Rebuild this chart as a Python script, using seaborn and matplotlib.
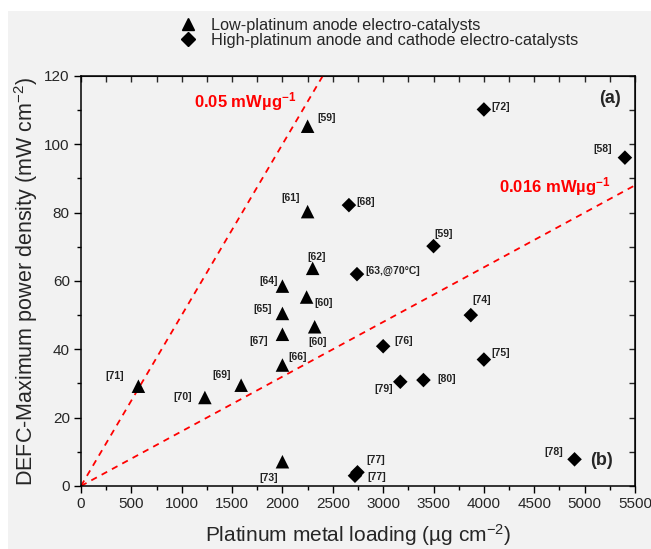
import numpy as np
import pandas as pd
import matplotlib.pyplot as plt
import seaborn as sns
from matplotlib.lines import Line2D
from matplotlib.patches import Rectangle
from matplotlib.ticker import MultipleLocator

# Low-platinum anode electro-catalysts
low_pt_loading = [2250, 2250, 2300, 2000, 2240, 2000, 2000, 2320, 2000, 570, 1230, 1590, 2000]
low_pt_power = [105.3, 80.3, 63.7, 58.5, 55.3, 50.5, 44.4, 46.6, 35.4, 29.2, 25.9, 29.5, 7.1]
low_pt_refs = ['[59]', '[61]', '[62]', '[64]', '[60]', '[65]', '[67]', '[60]', '[66]',
               '[71]', '[70]', '[69]', '[73]']

# High-platinum anode and cathode electro-catalysts
high_pt_loading = [4000, 5400, 2660, 3500, 2740, 3870, 3000, 4000, 3170, 3400, 4900, 2745, 2720]
high_pt_power = [110.2, 96.1, 82.2, 70.2, 62.0, 50.0, 40.9, 37.0, 30.5, 31.0, 7.8, 4.0, 3.0]
high_pt_refs = ['[72]', '[58]', '[68]', '[59]', '[63,@70\u00b0C]', '[74]', '[76]', '[75]',
                '[79]', '[80]', '[78]', '[77]', '[77]']

# Specific power reference lines (mW per ug)
specific_power = [0.05, 0.016]
specific_power_labels = ['0.05 mW\u00b5g$^{\\mathbf{-1}}$', '0.016 mW\u00b5g$^{\\mathbf{-1}}$']

legend_labels = ['Low-platinum anode electro-catalysts',
                 'High-platinum anode and cathode electro-catalysts']

# label offsets (points) relative to each marker
low_offsets = [(14, 6), (-12, 10), (3, 8), (-10, 4), (12, -4), (-14, 3), (-17, -5),
               (2, -11), (11, 6), (-17, 7), (-16, 0), (-14, 7), (-10, -12)]
high_offsets = [(12, 2), (-16, 6), (12, 2), (7, 9), (6, 2), (8, 11), (15, 4), (12, 5),
                (-12, -5), (17, 1), (-15, 5), (13, 9), (16, -1)]

sns.set_style('ticks')
plt.rcParams['font.family'] = ['Liberation Sans', 'DejaVu Sans']
plt.rcParams['mathtext.fontset'] = 'custom'
plt.rcParams['mathtext.rm'] = 'Liberation Sans'
plt.rcParams['mathtext.bf'] = 'Liberation Sans:bold'
plt.rcParams['mathtext.it'] = 'Liberation Sans:italic'

BG = '#f2f2f2'

df_low = pd.DataFrame({'loading': low_pt_loading, 'power': low_pt_power, 'ref': low_pt_refs})
df_high = pd.DataFrame({'loading': high_pt_loading, 'power': high_pt_power, 'ref': high_pt_refs})

fig = plt.figure(figsize=(6.51, 5.49), dpi=100, facecolor='white')
fig.patches.append(Rectangle((8 / 651, 0), 1, 1 - 11 / 549, transform=fig.transFigure,
                             facecolor=BG, edgecolor='none', zorder=-10))
ax = fig.add_axes([0.1244, 0.1148, 0.851, 0.7468])
ax.set_facecolor(BG)

# reference lines through origin
x_line = np.array([0, 5500])
for k in specific_power:
    ax.plot(x_line, k * x_line, color='#ff0000', lw=1.3, linestyle=(0, (3.5, 3)), zorder=1)

sns.scatterplot(data=df_low, x='loading', y='power', marker='^', s=95, color='black',
                edgecolor='none', ax=ax, zorder=3, legend=False)
sns.scatterplot(data=df_high, x='loading', y='power', marker='D', s=55, color='black',
                edgecolor='none', ax=ax, zorder=3, legend=False)

for df, offs in [(df_low, low_offsets), (df_high, high_offsets)]:
    for (i, row), off in zip(df.iterrows(), offs):
        ha = 'left' if row['ref'].startswith('[63') else 'center'
        ax.annotate(row['ref'], (row['loading'], row['power']), xytext=off,
                    textcoords='offset points', ha=ha, va='center',
                    fontsize=7.5, fontweight='bold', color='#222222')

ax.text(1120, 112.5, specific_power_labels[0], color='#ff0000', fontsize=12,
        fontweight='bold', ha='left', va='center')
ax.text(4150, 87.5, specific_power_labels[1], color='#ff0000', fontsize=12,
        fontweight='bold', ha='left', va='center')
ax.text(5250, 113.5, '(a)', fontsize=13, fontweight='bold', ha='center', va='center')
ax.text(5170, 7.5, '(b)', fontsize=13, fontweight='bold', ha='center', va='center')

ax.set_xlim(0, 5500)
ax.set_ylim(0, 120)
ax.xaxis.set_major_locator(MultipleLocator(500))
ax.xaxis.set_minor_locator(MultipleLocator(250))
ax.yaxis.set_major_locator(MultipleLocator(20))
ax.yaxis.set_minor_locator(MultipleLocator(10))
ax.tick_params(axis='both', which='major', length=5, width=1, labelsize=11, pad=3, color='black')
ax.tick_params(axis='both', which='minor', length=3, width=1, color='black')
for s in ax.spines.values():
    s.set_linewidth(1.1)
    s.set_color('black')

# inward ticks on top/right
ax_top = ax.secondary_xaxis('top')
ax_top.xaxis.set_major_locator(MultipleLocator(500))
ax_top.xaxis.set_minor_locator(MultipleLocator(250))
ax_top.tick_params(which='both', direction='in', labeltop=False, length=4, width=1)
ax_right = ax.secondary_yaxis('right')
ax_right.yaxis.set_major_locator(MultipleLocator(20))
ax_right.yaxis.set_minor_locator(MultipleLocator(10))
ax_right.tick_params(which='both', direction='in', labelright=False, length=4, width=1)

ax.set_xlabel('Platinum metal loading (\u00b5g cm$^{-2}$)', fontsize=15)
ax.set_ylabel('DEFC-Maximum power density (mW cm$^{-2}$)', fontsize=15.5)
ax.xaxis.set_label_coords(0.5, -0.088)
ax.yaxis.set_label_coords(-0.074, 0.5)

handles = [Line2D([], [], marker='^', color='black', linestyle='none', markersize=9),
           Line2D([], [], marker='D', color='black', linestyle='none', markersize=7)]
fig.legend(handles, legend_labels, loc='upper left', bbox_to_anchor=(170 / 651, 1 - 10 / 549),
           frameon=False, fontsize=11.7, handletextpad=0.85, labelspacing=0.0,
           borderpad=0, handlelength=1.2)

fig.savefig('out.png', dpi=100, facecolor='white')
